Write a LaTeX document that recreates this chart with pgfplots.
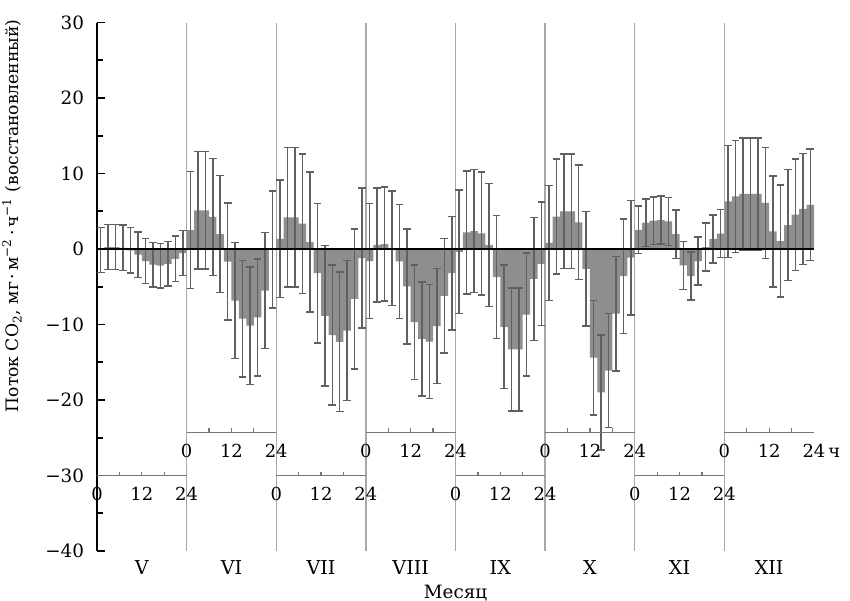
\documentclass[border=0pt]{standalone}
\usepackage{fontspec}
\setmainfont{DejaVu Serif}
\usepackage{pgfplots}
\usepackage{pgfplotstable}
\pgfplotsset{compat=1.18}

\definecolor{barfill}{HTML}{8E8E8E}
\definecolor{errc}{HTML}{606060}
\definecolor{sepc}{HTML}{A8A8A8}
\definecolor{hax}{HTML}{777777}

% hour, flux, half error bar; one row every 2 h, months V..XII one after another
\pgfplotstableread{
h    y      e
1   -0.13   3.00
3    0.26   3.00
5    0.26   3.00
7    0.15   3.00
9   -0.18   3.00
11  -0.75   3.00
13  -1.60   3.00
15  -2.07   2.95
17  -2.20   2.95
19  -1.96   2.93
21  -1.30   3.00
23  -0.53   2.95
25   2.50   7.75
27   5.13   7.78
29   5.13   7.78
31   4.27   7.75
33   1.98   7.75
35  -1.67   7.75
37  -6.83   7.70
39  -9.23   7.73
41 -10.15   7.77
43  -9.07   7.75
45  -5.50   7.70
47  -0.04   7.75
49   1.34   7.78
51   4.20   9.25
53   4.20   9.25
55   3.35   9.25
57   0.90   9.27
59  -3.20   9.25
61  -8.85   9.30
63 -11.40   9.25
65 -12.30   9.25
67 -10.80   9.27
69  -6.60   9.27
71  -1.20   9.25
73  -1.60   7.60
75   0.55   7.55
77   0.66   7.58
79   0.09   7.58
81  -1.65   7.55
83  -4.95   7.60
85  -9.70   7.58
87 -11.90   7.55
89 -12.26   7.55
91 -10.20   7.60
93  -6.20   7.57
95  -3.20   7.53
97  -0.37   8.17
99   2.20   8.13
101  2.37   8.13
103  2.07   8.15
105  0.53   8.15
107 -3.70   8.17
109 -10.30  8.15
111 -13.30  8.15
113 -13.30  8.15
115 -8.70   8.15
117 -3.96   8.15
119 -1.96   8.17
121  0.81   7.60
123  4.30   7.60
125  5.00   7.60
127  5.00   7.60
129  3.52   7.58
131 -2.64   7.58
133 -14.40  7.58
135 -19.00  7.60
137 -16.10  7.55
139 -8.57   7.60
141 -3.60   7.60
143 -1.15   7.60
145  2.53   3.15
147  3.48   3.13
149  3.77   3.15
151  3.83   3.17
153  3.66   3.17
155  1.96   3.19
157 -2.18   3.19
159 -3.59   3.19
161 -1.59   3.17
163  0.26   3.17
165  1.34   3.19
167  2.03   3.17
169  6.30   7.40
171  6.96   7.40
173  7.30   7.40
175  7.30   7.40
177  7.30   7.40
179  6.10   7.36
181  2.33   7.36
183  1.06   7.40
185  3.17   7.36
187  4.56   7.38
189  5.30   7.38
191  5.84   7.38
}\flux

\tikzset{hl/.style={anchor=base, inner sep=0pt, yshift=-12.5bp, font=\fontsize{9}{11}\selectfont}}

% small hour axis under one month: #1 = first hour, #2 = y level
\newcommand\hrs[2]{%
  \draw[hax, line width=0.6bp] (axis cs:#1,#2) -- (axis cs:#1+24,#2);
  \draw[hax, line width=0.6bp] (axis cs:#1+6,#2) -- ([yshift=2bp]axis cs:#1+6,#2);
  \draw[hax, line width=0.6bp] (axis cs:#1+12,#2) -- ([yshift=2bp]axis cs:#1+12,#2);
  \draw[hax, line width=0.6bp] (axis cs:#1+18,#2) -- ([yshift=2bp]axis cs:#1+18,#2);
  \node[hl] at (axis cs:#1,#2) {0};
  \node[hl] at (axis cs:#1+12,#2) {12};
  \node[hl] at (axis cs:#1+24,#2) {24};
}

\begin{document}
\begin{tikzpicture}
\useasboundingbox (-48.5bp,-25bp) rectangle (376.5bp,275.5bp);
\begin{axis}[
  at={(0,0)}, anchor=south west,
  scale only axis, width=358.5bp, height=264.25bp,
  xmin=0, xmax=192, ymin=-40, ymax=30,
  clip=false,
  axis y line*=left, axis x line*=bottom,
  x axis line style={draw=none},
  y axis line style={-, line width=0.9bp},
  ytick={-40,-30,...,30},
  yticklabels={−40,−30,−20,−10,0,10,20,30},
  minor y tick num=1,
  tick align=inside,
  major tick length=4bp, minor tick length=3bp,
  y tick style={black, line width=0.8bp},
  yticklabel style={font=\fontsize{9.2}{11}\selectfont, xshift=-3bp},
  xtick={12,36,...,180},
  xticklabels={V,VI,VII,VIII,IX,X,XI,XII},
  x tick style={draw=none},
  xticklabel style={font=\fontsize{9.6}{12}\selectfont, anchor=base, yshift=-11.5bp},
  extra x ticks={24,48,...,168},
  extra x tick labels={},
  extra x tick style={grid=major, major grid style={sepc, line width=0.7bp}, tick style={draw=none}},
  xlabel={Месяц},
  xlabel style={font=\fontsize{9.2}{11}\selectfont, at={(axis description cs:0.5,0)}, anchor=base, yshift=-23.5bp},
  ylabel={Поток CO\textsubscript{2}, мг\,·\,м\textsuperscript{−2}\,·\,ч\textsuperscript{−1} (восстановленный)},
  ylabel style={font=\fontsize{8.6}{10}\selectfont, at={(ticklabel cs:0.634)}, yshift=5bp},
]
\addplot[ybar, bar width=2, fill=barfill, draw=none,
  error bars/.cd, y dir=both, y explicit, error mark=-,
  error bar style={draw=errc, line width=0.75bp},
  error mark options={rotate=90, draw=errc, line width=0.75bp, mark size=1.9bp}]
  table[x=h, y=y, y error=e] {\flux};
\addplot[black, line width=1.1bp] coordinates {(0,0) (192,0)};
\hrs{0}{-30}
\hrs{24}{-24.3}
\hrs{48}{-30}
\hrs{72}{-24.3}
\hrs{96}{-30}
\hrs{120}{-24.3}
\hrs{144}{-30}
\hrs{168}{-24.3}
\node[hl, anchor=base west, xshift=7bp] at (axis cs:192,-24.3) {ч};
\end{axis}
\end{tikzpicture}
\end{document}
